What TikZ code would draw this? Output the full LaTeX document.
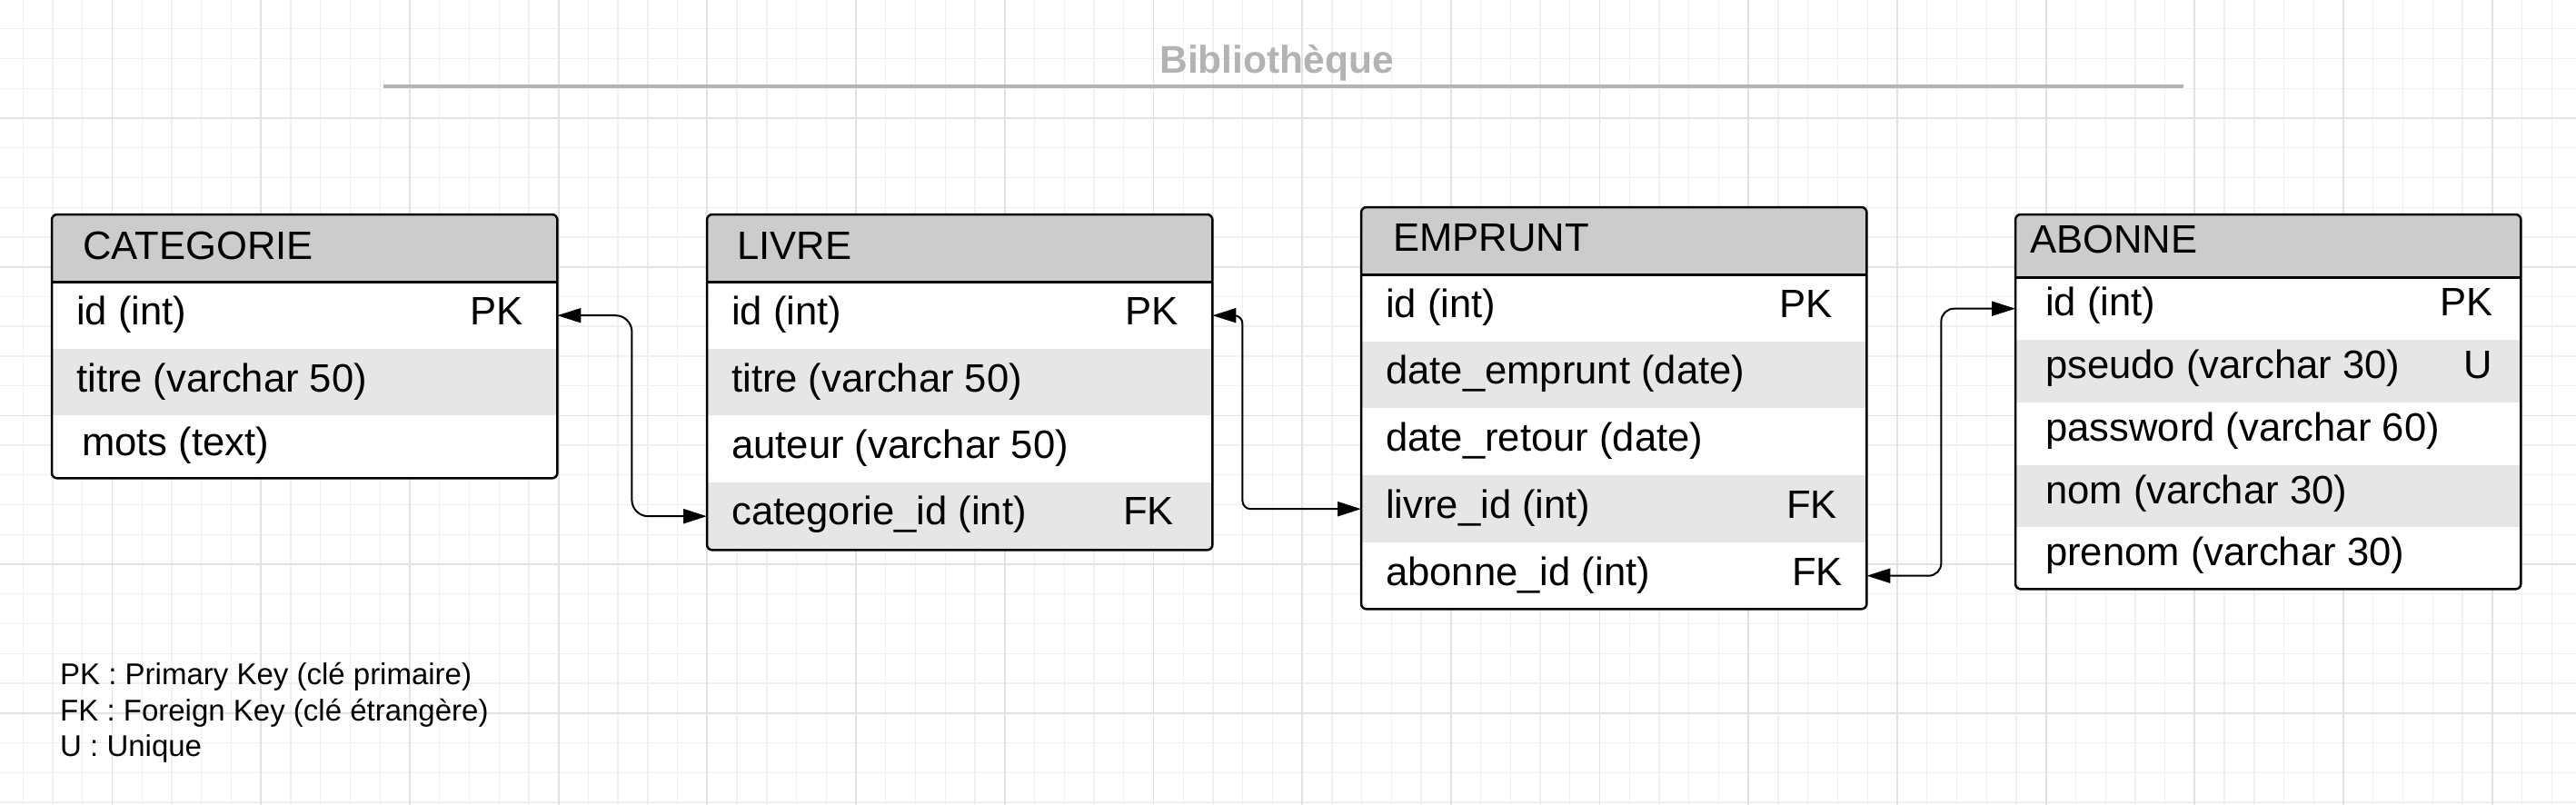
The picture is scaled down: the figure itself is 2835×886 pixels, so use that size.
\documentclass[tikz,border=0pt]{standalone}
\usepackage{fontspec}
\setmainfont{Liberation Sans}
\usetikzlibrary{arrows.meta}
\definecolor{hdrgray}{HTML}{CCCCCC}
\definecolor{rowgray}{HTML}{E6E6E6}
\definecolor{titlegray}{HTML}{B3B3B3}
\definecolor{gridminor}{HTML}{F0F0F0}
\definecolor{gridmajor}{HTML}{E2E2E2}
\newcommand\fsz{\fontsize{43.6pt}{51pt}\selectfont}
\newcommand\tsz{\fontsize{42.5pt}{50pt}\selectfont}
\newcommand\lsz{\fontsize{33pt}{40pt}\selectfont}
\tikzset{
  hdr/.style={fill=hdrgray, draw=none, inner sep=0pt, anchor=north west},
  roww/.style={fill=white, draw=none, inner sep=0pt, anchor=north west},
  rowg/.style={fill=rowgray, draw=none, inner sep=0pt, anchor=north west},
  ftxt/.style={anchor=base west, inner sep=0pt, font=\fsz},
  ktxt/.style={anchor=base east, inner sep=0pt, font=\fsz},
  frame/.style={draw=black, line width=2.5pt, rounded corners=6pt},
  sepline/.style={draw=black, line width=2.5pt},
  link/.style={line width=2pt, arrows={Triangle[length=26pt,width=16pt]-Triangle[length=26pt,width=16pt]}},
  legend/.style={anchor=base west, inner sep=0pt, font=\lsz},
}
\begin{document}
\begin{tikzpicture}[x=1pt,y=-1pt]
\useasboundingbox (0,0) rectangle (2835,886);
\fill[white] (0,0) rectangle (2835,886);
% grid
\foreach \i in {0,...,88} {
  \draw[gridminor, line width=1.3pt] ({-7.4+32.74*\i},0) -- ({-7.4+32.74*\i},886);
}
\foreach \j in {0,...,27} {
  \draw[gridminor, line width=1.3pt] (0,{-1+32.74*\j}) -- (2835,{-1+32.74*\j});
}
\foreach \i in {0,...,16} {
  \draw[gridmajor, line width=1.8pt] ({123.5+163.7*\i},0) -- ({123.5+163.7*\i},886);
}
\foreach \j in {0,...,5} {
  \draw[gridmajor, line width=1.8pt] (0,{130+163.7*\j}) -- (2835,{130+163.7*\j});
}

% title
\node[anchor=base, inner sep=0pt, font=\tsz\bfseries, text=titlegray] (title) at (1405,80.7) {Bibliothèque};
\coordinate (tl1) at (422,95.3);
\coordinate (tl2) at (2403,95.3);
\draw[titlegray, line width=4pt] (tl1) -- (tl2);

% CATEGORIE
\begin{scope}
\clip[rounded corners=6pt] (57,236) rectangle (613,526);
\node[hdr, minimum width=556pt, minimum height=74pt] (cath) at (57,236) {};
\node[roww, minimum width=556pt, minimum height=74pt] (cat1) at (57,310) {};
\node[rowg, minimum width=556pt, minimum height=73pt] (cat2) at (57,384) {};
\node[roww, minimum width=556pt, minimum height=69pt] (cat3) at (57,457) {};
\end{scope}
\draw[frame] (cath.north west) rectangle (cat3.south east);
\draw[sepline] (cath.south west) -- (cath.south east);
\node[ftxt] (catht) at (91,285) {CATEGORIE};
\node[ftxt] (cat1t) at (84,357) {id (int)};
\node[ktxt] (cat1k) at (576,357) {PK};
\node[ftxt] (cat2t) at (84,431) {titre (varchar 50)};
\node[ftxt] (cat3t) at (90,501) {mots (text)};

% LIVRE
\begin{scope}
\clip[rounded corners=6pt] (778,236) rectangle (1334,605);
\node[hdr, minimum width=556pt, minimum height=74pt] (livh) at (778,236) {};
\node[roww, minimum width=556pt, minimum height=74pt] (liv1) at (778,310) {};
\node[rowg, minimum width=556pt, minimum height=73pt] (liv2) at (778,384) {};
\node[roww, minimum width=556pt, minimum height=74pt] (liv3) at (778,457) {};
\node[rowg, minimum width=556pt, minimum height=74pt] (liv4) at (778,531) {};
\end{scope}
\draw[frame] (livh.north west) rectangle (liv4.south east);
\draw[sepline] (livh.south west) -- (livh.south east);
\node[ftxt] (livht) at (811,285) {LIVRE};
\node[ftxt] (liv1t) at (805,357) {id (int)};
\node[ktxt] (liv1k) at (1297,357) {PK};
\node[ftxt] (liv2t) at (805,431) {titre (varchar 50)};
\node[ftxt] (liv3t) at (805,504) {auteur (varchar 50)};
\node[ftxt] (liv4t) at (805,577) {categorie\_id (int)};
\node[ktxt] (liv4k) at (1292,577) {FK};

% EMPRUNT
\begin{scope}
\clip[rounded corners=6pt] (1498,228) rectangle (2054,670);
\node[hdr, minimum width=556pt, minimum height=74pt] (emph) at (1498,228) {};
\node[roww, minimum width=556pt, minimum height=74pt] (emp1) at (1498,302) {};
\node[rowg, minimum width=556pt, minimum height=73pt] (emp2) at (1498,376) {};
\node[roww, minimum width=556pt, minimum height=74pt] (emp3) at (1498,449) {};
\node[rowg, minimum width=556pt, minimum height=74pt] (emp4) at (1498,523) {};
\node[roww, minimum width=556pt, minimum height=73pt] (emp5) at (1498,597) {};
\end{scope}
\draw[frame] (emph.north west) rectangle (emp5.south east);
\draw[sepline] (emph.south west) -- (emph.south east);
\node[ftxt] (empht) at (1533,276) {EMPRUNT};
\node[ftxt] (emp1t) at (1525,349.5) {id (int)};
\node[ktxt] (emp1k) at (2017,349.5) {PK};
\node[ftxt] (emp2t) at (1525,422.5) {date\_emprunt (date)};
\node[ftxt] (emp3t) at (1525,496) {date\_retour (date)};
\node[ftxt] (emp4t) at (1525,570) {livre\_id (int)};
\node[ktxt] (emp4k) at (2022,570) {FK};
\node[ftxt] (emp5t) at (1525,644) {abonne\_id (int)};
\node[ktxt] (emp5k) at (2028,644) {FK};

% ABONNE
\begin{scope}
\clip[rounded corners=6pt] (2218,236) rectangle (2774,648);
\node[hdr, minimum width=556pt, minimum height=69pt] (aboh) at (2218,236) {};
\node[roww, minimum width=556pt, minimum height=69pt] (abo1) at (2218,305) {};
\node[rowg, minimum width=556pt, minimum height=69pt] (abo2) at (2218,374) {};
\node[roww, minimum width=556pt, minimum height=69pt] (abo3) at (2218,443) {};
\node[rowg, minimum width=556pt, minimum height=68pt] (abo4) at (2218,512) {};
\node[roww, minimum width=556pt, minimum height=68pt] (abo5) at (2218,580) {};
\end{scope}
\draw[frame] (aboh.north west) rectangle (abo5.south east);
\draw[sepline] (aboh.south west) -- (aboh.south east);
\node[ftxt] (aboht) at (2234,278.5) {ABONNE};
\node[ftxt] (abo1t) at (2251,347.5) {id (int)};
\node[ktxt] (abo1k) at (2744,347.5) {PK};
\node[ftxt] (abo2t) at (2251,416.5) {pseudo (varchar 30)};
\node[ktxt] (abo2k) at (2743,416.5) {U};
\node[ftxt] (abo3t) at (2251,485.5) {password (varchar 60)};
\node[ftxt] (abo4t) at (2251,554) {nom (varchar 30)};
\node[ftxt] (abo5t) at (2251,622) {prenom (varchar 30)};

% connectors
\draw[link, rounded corners=18pt] (cat1.east) -- ++(82,0) |- (liv4.west);
\draw[link, rounded corners=9pt] (liv1.east) -- ++(33,0) |- (emp4.west);
\draw[link, rounded corners=14pt] (emp5.east) -- ++(82,0) |- (abo1.west);

% legend
\node[legend] (leg1) at (66,753) {PK : Primary Key (clé primaire)};
\node[legend] (leg2) at (66,793) {FK : Foreign Key (clé étrangère)};
\node[legend] (leg3) at (66,832) {U : Unique};
\end{tikzpicture}
\end{document}
